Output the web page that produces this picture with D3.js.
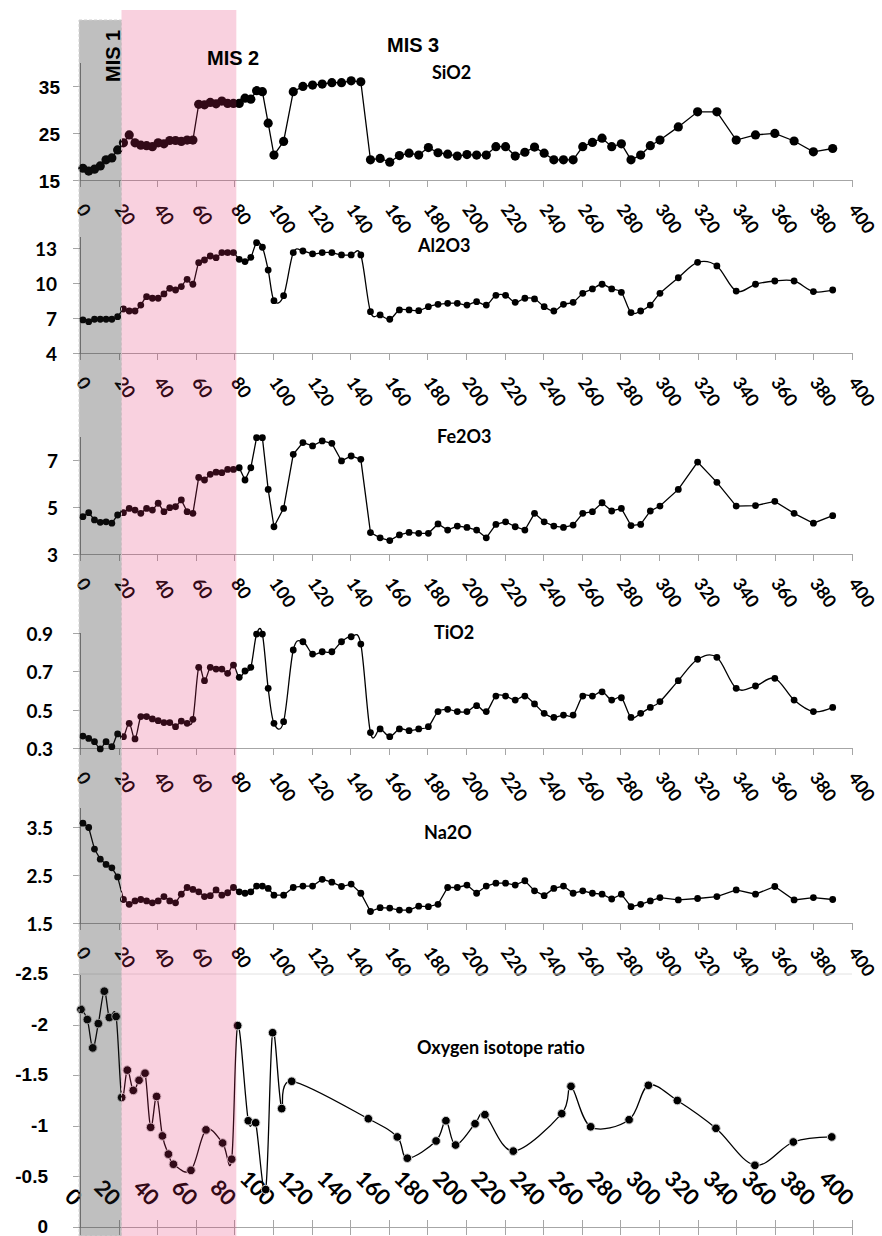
<!DOCTYPE html>
<html lang="en">
<head>
<meta charset="utf-8">
<title>Geochemical profiles and oxygen isotope ratio</title>
<script src="https://d3js.org/d3.v7.min.js"></script>
<style>
  body { margin: 0; background: #fff; }
  .axis path, .axis line { fill: none; stroke: #a6a6a6; shape-rendering: crispEdges; }
  .yaxis path { stroke: #8c8c8c; }
  .xlab { font-family: Lato, "Open Sans", sans-serif; font-weight: 700; font-size: 18px; fill: #000; }
  .isolab { font-family: Lato, "Open Sans", sans-serif; font-weight: 700; font-size: 22px; fill: #000; }
  .title { font-family: Lato, "Open Sans", sans-serif; font-weight: 700; font-size: 18px; }
  .mis { font-family: "Liberation Sans", Arial, sans-serif; font-weight: 700; font-size: 20px; }
</style>
</head>
<body>
<script>
// sample depths shared by the five oxide series
var depth = [1.5, 4.5, 7.5, 10.5, 13.5, 16.5, 19.5, 22.5, 25.5, 28.5,
  31.5, 34.5, 37.5, 40.5, 43.5, 46.5, 49.5, 52.5, 55.5, 58.5,
  61.5, 64.5, 67.5, 70.5, 73.5, 76.5, 79.5, 82.5, 85.5, 88.5,
  91.5, 94.5, 97.5, 100.5,
  105.5, 110.5, 115.5, 120.5, 125.5, 130.5, 135.5, 140.5, 145.5, 150.5,
  155.5, 160.5, 165.5, 170.5, 175.5, 180.5, 185.5, 190.5, 195.5, 200.5,
  205.5, 210.5, 215.5, 220.5, 225.5, 230.5, 235.5, 240.5, 245.5, 250.5,
  255.5, 260.5, 265.5, 270.5, 275.5, 280.5, 285.5, 290.5, 295.5, 300.5,
  310, 320, 330, 340, 350, 360, 370, 380, 390];

var sio2 = [17.5, 16.9, 17.3, 18.0, 19.3, 19.7, 21.4, 22.9, 24.6, 22.9,
  22.4, 22.3, 22.1, 22.9, 22.7, 23.4, 23.4, 23.2, 23.5, 23.5,
  31.1, 31.0, 31.5, 31.2, 31.8, 31.3, 31.3, 31.3, 32.4, 32.2,
  34.0, 33.8, 27.1, 20.3,
  23.2, 33.8, 34.9, 35.2, 35.4, 35.7, 35.7, 36.1, 35.9, 19.3,
  19.6, 18.8, 20.2, 20.7, 20.3, 21.9, 20.8, 20.5, 20.1, 20.4,
  20.3, 20.3, 22.1, 22.1, 20.1, 20.9, 22.0, 20.7, 19.3, 19.3,
  19.3, 22.1, 23.0, 23.9, 22.1, 22.7, 19.3, 20.3, 22.3, 23.5,
  26.3, 29.5, 29.5, 23.5, 24.6, 24.9, 23.3, 21.0, 21.7];

var al2o3 = [6.83, 6.68, 6.89, 6.89, 6.89, 6.89, 7.11, 7.77, 7.60, 7.60,
  8.11, 8.83, 8.69, 8.69, 9.06, 9.54, 9.40, 9.69, 10.31, 9.89,
  11.74, 11.97, 12.31, 12.17, 12.60, 12.60, 12.60, 12.03, 11.83, 12.20,
  13.45, 13.06, 11.11, 8.48,
  8.91, 12.60, 12.74, 12.49, 12.60, 12.60, 12.40, 12.40, 12.40, 7.54,
  7.26, 6.89, 7.69, 7.69, 7.63, 7.97, 8.17, 8.26, 8.26, 8.11,
  8.40, 8.11, 8.94, 8.94, 8.34, 8.69, 8.63, 7.97, 7.60, 8.17,
  8.34, 9.11, 9.49, 9.89, 9.49, 9.20, 7.46, 7.60, 8.11, 9.11,
  10.45, 11.77, 11.46, 9.31, 9.89, 10.17, 10.17, 9.26, 9.40];

var fe2o3 = [4.59, 4.76, 4.45, 4.35, 4.37, 4.31, 4.66, 4.76, 4.94, 4.87,
  4.73, 4.94, 4.87, 5.16, 4.80, 4.97, 5.01, 5.30, 4.80, 4.73,
  6.26, 6.15, 6.39, 6.48, 6.46, 6.60, 6.60, 6.67, 6.15, 6.67,
  7.95, 7.95, 5.75, 4.16,
  4.94, 7.24, 7.74, 7.60, 7.81, 7.71, 6.96, 7.17, 7.03, 3.91,
  3.69, 3.57, 3.81, 3.92, 3.88, 3.88, 4.28, 4.02, 4.19, 4.13,
  4.02, 3.69, 4.26, 4.37, 4.16, 4.02, 4.73, 4.37, 4.19, 4.13,
  4.23, 4.73, 4.80, 5.18, 4.83, 4.94, 4.21, 4.26, 4.83, 5.04,
  5.75, 6.91, 6.05, 5.04, 5.06, 5.24, 4.73, 4.31, 4.63];

var tio2 = [0.362, 0.350, 0.333, 0.295, 0.333, 0.307, 0.373, 0.359, 0.428, 0.347,
  0.463, 0.463, 0.451, 0.442, 0.432, 0.432, 0.411, 0.440, 0.428, 0.449,
  0.719, 0.650, 0.719, 0.710, 0.710, 0.688, 0.731, 0.667, 0.700, 0.719,
  0.892, 0.892, 0.610, 0.428,
  0.437, 0.809, 0.852, 0.788, 0.800, 0.800, 0.852, 0.878, 0.840, 0.380,
  0.399, 0.359, 0.399, 0.390, 0.399, 0.411, 0.489, 0.501, 0.489, 0.489,
  0.520, 0.489, 0.570, 0.570, 0.549, 0.570, 0.529, 0.480, 0.459, 0.471,
  0.471, 0.570, 0.570, 0.592, 0.549, 0.561, 0.459, 0.480, 0.511, 0.541,
  0.650, 0.761, 0.771, 0.610, 0.622, 0.662, 0.549, 0.489, 0.511];

var na2o = [3.58, 3.49, 3.04, 2.83, 2.72, 2.65, 2.46, 1.99, 1.89, 1.96,
  1.99, 1.96, 1.92, 1.96, 2.05, 1.96, 1.92, 2.10, 2.24, 2.20,
  2.15, 2.05, 2.07, 2.19, 2.08, 2.13, 2.24, 2.15, 2.12, 2.15,
  2.27, 2.27, 2.22, 2.08,
  2.08, 2.24, 2.27, 2.27, 2.41, 2.35, 2.26, 2.31, 2.12, 1.74,
  1.82, 1.81, 1.77, 1.77, 1.85, 1.84, 1.89, 2.24, 2.24, 2.29,
  2.12, 2.27, 2.33, 2.33, 2.29, 2.38, 2.17, 2.07, 2.22, 2.27,
  2.12, 2.17, 2.12, 2.10, 2.00, 2.10, 1.84, 1.89, 1.96, 2.03,
  1.98, 2.01, 2.05, 2.19, 2.10, 2.26, 1.98, 2.03, 1.99];

// oxygen isotope record (own x positions)
var isoAge = [0.5, 3.8, 6.6, 9.5, 12.6, 15.2, 18.7, 21.6, 24.5, 27.6,
  30.6, 33.7, 36.6, 39.7, 42.7, 45.8, 48.4, 57.5, 65.3, 73.9,
  78.6, 81.7, 87.2, 91.0, 96.2, 99.8, 104.5, 109.7, 149.4, 164.4,
  169.6, 184.5, 189.6, 194.6, 204.7, 209.8, 224.5, 249.6, 254.4, 264.6,
  284.5, 294.5, 309.5, 329.5, 349.7, 369.6, 389.5];
var isoRatio = [-2.15, -2.05, -1.77, -2.01, -2.33, -2.07, -2.08, -1.28, -1.55, -1.35,
  -1.45, -1.52, -0.985, -1.29, -0.90, -0.72, -0.62, -0.56, -0.96, -0.83,
  -0.67, -1.99, -1.05, -1.03, -0.37, -1.92, -1.17, -1.44, -1.07, -0.89,
  -0.68, -0.85, -1.05, -0.81, -1.02, -1.11, -0.75, -1.12, -1.39, -0.99,
  -1.06, -1.40, -1.25, -0.975, -0.61, -0.84, -0.89];

var xTicks = [0, 20, 40, 60, 80, 100, 120, 140, 160, 180, 200, 220, 240, 260, 280, 300, 320, 340, 360, 380, 400];
var sio2Ticks = [15, 25, 35];
var al2o3Ticks = [4, 7, 10, 13];
var fe2o3Ticks = [3, 5, 7];
var tio2Ticks = [0.3, 0.5, 0.7, 0.9];
var na2oTicks = [1.5, 2.5, 3.5];
var isoTicks = [0, -0.5, -1, -1.5, -2, -2.5];

var misNames = ["MIS 1", "MIS 2", "MIS 3"];
var misEdges = [-0.5, 21.5, 81];

var W = 882, H = 1236;
var svg = d3.select("body").append("svg").attr("width", W).attr("height", H);
svg.append("rect").attr("width", W).attr("height", H).attr("fill", "#fff");

var x = d3.scaleLinear().domain([0, 400]).range([80, 852]);
var plain = function(d) { return String(d); };

var panels = [
  {title: "SiO2", vals: sio2, ticks: sio2Ticks, dom: [15, 40], rng: [180, 62.5], r: 4.6, smooth: false, pad: 13, font: '"Liberation Sans", Arial, sans-serif', tx: 432, ty: 79},
  {title: "Al2O3", vals: al2o3, ticks: al2o3Ticks, dom: [4, 14], rng: [353, 236.3], r: 3.4, smooth: true, pad: 16, font: 'Lato, sans-serif', tx: 418, ty: 252},
  {title: "Fe2O3", vals: fe2o3, ticks: fe2o3Ticks, dom: [3, 8], rng: [554, 436.5], r: 3.4, smooth: false, pad: 15, font: 'Lato, sans-serif', tx: 437, ty: 443},
  {title: "TiO2", vals: tio2, ticks: tio2Ticks, dom: [0.3, 0.9], rng: [748, 632.5], r: 3.4, smooth: true, pad: 20, font: 'Lato, sans-serif', tx: 434, ty: 639},
  {title: "Na2O", vals: na2o, ticks: na2oTicks, dom: [1.5, 3.9], rng: [923, 807.8], r: 3.4, smooth: false, pad: 20, font: 'Lato, sans-serif', tx: 424, ty: 839}
];

var marks = svg.append("g");

panels.forEach(function(p) {
  var y = d3.scaleLinear().domain(p.dom).range(p.rng);
  var g = marks.append("g");

  var xa = g.append("g").attr("class", "axis")
    .attr("transform", "translate(0," + p.rng[0] + ")")
    .call(d3.axisBottom(x).tickValues(xTicks).tickSize(7).tickSizeOuter(0));
  xa.selectAll("text").attr("class", "xlab").attr("y", 0).attr("dy", 0)
    .attr("text-anchor", "start")
    .attr("transform", "translate(-5,29.5) rotate(55)");

  var ya = g.append("g").attr("class", "axis yaxis")
    .attr("transform", "translate(80,0)")
    .call(d3.axisLeft(y).tickValues(p.ticks).tickFormat(plain).tickSize(7).tickSizeOuter(0).tickPadding(p.pad));
  ya.selectAll("text").attr("dy", "0.42em")
    .style("font-family", p.font).style("font-weight", "700").style("font-size", "19px").style("fill", "#000");

  var pts = depth.map(function(d, i) { return [d, p.vals[i]]; });
  var line = d3.line().x(function(d) { return x(d[0]); }).y(function(d) { return y(d[1]); })
    .curve(p.smooth ? d3.curveCardinal.tension(0) : d3.curveLinear);
  g.append("path").datum(pts).attr("d", line).attr("fill", "none").attr("stroke", "#000").attr("stroke-width", 1.3);
  g.selectAll("circle").data(pts).enter().append("circle")
    .attr("cx", function(d) { return x(d[0]); }).attr("cy", function(d) { return y(d[1]); })
    .attr("r", p.r).attr("fill", "#000");

  svg.append("text").attr("class", "title").attr("x", p.tx).attr("y", p.ty).text(p.title);
});

// oxygen isotope panel, reversed axis
var yIso = d3.scaleLinear().domain([0, -2.5]).range([1227, 974]);
var gi = marks.append("g");
gi.append("line").attr("x1", x(0)).attr("x2", x(400)).attr("y1", yIso(-2.5)).attr("y2", yIso(-2.5))
  .attr("stroke", "#e2e2e2");
var xb = gi.append("g").attr("class", "axis").attr("transform", "translate(0," + yIso(0) + ")")
  .call(d3.axisBottom(x).tickValues(xTicks).tickSize(8).tickSizeOuter(0).tickFormat(""));
xb.selectAll(".tick line").attr("y1", -7);
var xl = gi.append("g").attr("transform", "translate(0,1207)")
  .call(d3.axisBottom(x).tickValues(xTicks).tickSize(0));
xl.select(".domain").remove();
xl.selectAll("text").attr("class", "isolab").attr("y", 0).attr("dy", 0)
  .attr("text-anchor", "end").attr("transform", "translate(-8,0) rotate(45)");

var yi = gi.append("g").attr("class", "axis yaxis").attr("transform", "translate(80,0)")
  .call(d3.axisLeft(yIso).tickValues(isoTicks).tickSize(7).tickSizeOuter(0).tickPadding(25)
    .tickFormat(plain));
yi.selectAll("text").attr("dy", "0.3em")
  .style("font-family", '"Liberation Sans", Arial, sans-serif').style("font-weight", "700")
  .style("font-size", "19px").style("fill", "#000");

var isoPts = isoAge.map(function(d, i) { return [d, isoRatio[i]]; });
gi.append("path").datum(isoPts)
  .attr("d", d3.line().x(function(d) { return x(d[0]); }).y(function(d) { return yIso(d[1]); }).curve(d3.curveCardinal.tension(0)))
  .attr("fill", "none").attr("stroke", "#000").attr("stroke-width", 1.3);
gi.selectAll("circle").data(isoPts).enter().append("circle")
  .attr("cx", function(d) { return x(d[0]); }).attr("cy", function(d) { return yIso(d[1]); })
  .attr("r", 4.3).attr("fill", "#000").attr("stroke", "#d0d0d0").attr("stroke-width", 1);
svg.append("text").attr("class", "title").attr("x", 417).attr("y", 1054).text("Oxygen isotope ratio");

// MIS bands laid over the marks
svg.append("rect").attr("x", x(misEdges[0])).attr("y", 20)
  .attr("width", x(misEdges[1]) - x(misEdges[0])).attr("height", H - 20)
  .attr("fill", "#222").attr("fill-opacity", 0.29)
  .attr("stroke", "#cfcfcf").attr("stroke-dasharray", "3,2");
svg.append("rect").attr("x", x(misEdges[1])).attr("y", 10)
  .attr("width", x(misEdges[2]) - x(misEdges[1])).attr("height", H - 10)
  .attr("fill", "rgb(227,45,109)").attr("fill-opacity", 0.22);

svg.append("text").attr("class", "mis").attr("transform", "translate(120,82) rotate(-90)").text(misNames[0]);
svg.append("text").attr("class", "mis").attr("x", 207).attr("y", 65).text(misNames[1]);
svg.append("text").attr("class", "mis").attr("x", 387).attr("y", 52).text(misNames[2]);
</script>
</body>
</html>
